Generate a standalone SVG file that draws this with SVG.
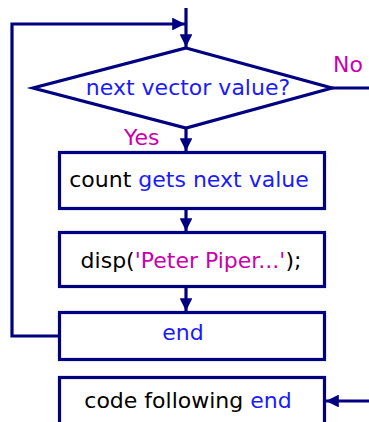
<svg xmlns="http://www.w3.org/2000/svg" width="369" height="422" viewBox="0 0 369 422">
  <defs>
    <marker id="arrow" viewBox="0 0 10 10" refX="10" refY="5" markerWidth="4" markerHeight="4" orient="auto" markerUnits="strokeWidth">
      <path d="M0,0 L10,5 L0,10 Z" fill="#000080"/>
    </marker>
    <style>
      .shape { fill: #ffffff; stroke: #000080; stroke-width: 3.2; }
      .wire { fill: none; stroke: #000080; stroke-width: 3.2; }
      .lbl { font-family: "DejaVu Sans", "Liberation Sans", sans-serif; font-size: 22px; }
      .blk { fill: #000000; }
      .blu { fill: #1a1aff; }
      .mag { fill: #cc00aa; }
    </style>
  </defs>
  <rect width="369" height="422" fill="#ffffff"/>

  <!-- connectors -->
  <g id="connectors">
    <path class="wire" d="M186,8 L186,47" marker-end="url(#arrow)"/>
    <path class="wire" d="M60,336 L12,336 L12,24 L185,24" marker-end="url(#arrow)"/>
    <path class="wire" d="M332,88 L369,88"/>
    <path class="wire" d="M186,128 L186,151" marker-end="url(#arrow)"/>
    <path class="wire" d="M186,209 L186,231" marker-end="url(#arrow)"/>
    <path class="wire" d="M186,287 L186,311" marker-end="url(#arrow)"/>
    <path class="wire" d="M369,401 L326,401" marker-end="url(#arrow)"/>
    <text class="lbl mag" x="333" y="72">No</text>
    <text class="lbl mag" x="124" y="145">Yes</text>
  </g>

  <!-- decision -->
  <g id="decision">
    <polygon class="shape" points="186,48 332,88 186,128 33,88"/>
    <text class="lbl blu" x="188" y="95" text-anchor="middle">next vector value?</text>
  </g>

  <g id="assign">
    <rect class="shape" x="59.5" y="152.5" width="265" height="56"/>
    <text class="lbl" x="189" y="187" text-anchor="middle"><tspan class="blk">count </tspan><tspan class="blu">gets next value</tspan></text>
  </g>

  <g id="display">
    <rect class="shape" x="59.5" y="232.5" width="265" height="54"/>
    <text class="lbl" x="191" y="268" text-anchor="middle"><tspan class="blk">disp(</tspan><tspan class="mag">'Peter Piper...'</tspan><tspan class="blk">);</tspan></text>
  </g>

  <g id="loop-end">
    <rect class="shape" x="59.5" y="312.5" width="265" height="47"/>
    <text class="lbl blu" x="183" y="340" text-anchor="middle">end</text>
  </g>

  <g id="after-loop">
    <rect class="shape" x="59.5" y="377.5" width="265" height="60"/>
    <text class="lbl" x="188" y="408" text-anchor="middle"><tspan class="blk">code following </tspan><tspan class="blu">end</tspan></text>
  </g>
</svg>
